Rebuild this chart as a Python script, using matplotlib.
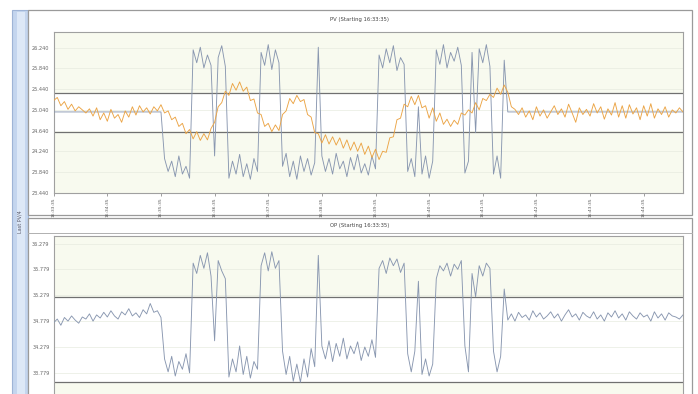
import numpy as np
import matplotlib
matplotlib.use("Agg")
import matplotlib.pyplot as plt
from matplotlib.patches import Rectangle

W, H = 698, 394

# PV panel - process value (orange) and second trace (blue)
pv = [
    25.22, 25.28, 25.12, 25.20, 25.05, 25.15, 25.02, 25.10, 25.04, 24.98,
    25.06, 24.92, 25.08, 24.85, 24.98, 24.82, 25.05, 24.88, 24.95, 24.80,
    25.02, 24.90, 25.10, 24.94, 25.12, 25.00, 25.08, 24.96, 25.10, 25.02,
    25.14, 24.98, 25.02, 24.85, 24.90, 24.72, 24.78, 24.58, 24.66, 24.48,
    24.62, 24.45, 24.58, 24.46, 24.68, 24.80, 25.10, 25.18, 25.40, 25.32,
    25.55, 25.42, 25.58, 25.40, 25.48, 25.22, 25.25, 24.98, 24.95, 24.72,
    24.78, 24.62, 24.75, 24.64, 24.95, 25.02, 25.26, 25.16, 25.32, 25.20,
    25.24, 24.95, 24.90, 24.60, 24.58, 24.40, 24.56, 24.38, 24.52, 24.36,
    24.50, 24.30, 24.46, 24.26, 24.42, 24.24, 24.40, 24.18, 24.34, 24.12,
    24.28, 24.08, 24.24, 24.22, 24.50, 24.52, 24.85, 24.88, 25.15, 25.10,
    25.30, 25.14, 25.32, 25.08, 25.12, 24.88, 25.08, 24.82, 24.98, 24.76,
    24.86, 24.72, 24.84, 24.76, 24.98, 24.94, 25.04, 24.98, 25.18, 25.04,
    25.26, 25.22, 25.34, 25.28, 25.46, 25.34, 25.52, 25.38, 25.10, 25.05,
    24.95, 25.08, 24.90, 25.02, 24.85, 25.10, 24.92, 25.04, 24.88, 25.00,
    25.12, 24.95, 25.06, 24.90, 25.15, 24.98, 24.80, 25.08, 24.95, 25.05,
    24.92, 25.16, 24.98, 25.10, 24.86, 25.06, 24.94, 25.18, 24.90, 25.12,
    24.88, 25.14, 24.96, 25.08, 24.85, 25.12, 24.92, 25.16, 24.88, 25.06,
    24.95, 25.10, 24.90, 25.04, 24.98, 25.08, 25.00,
]

pv2 = [
    25.0, 25.0, 25.0, 25.0, 25.0, 25.0, 25.0, 25.0, 25.0, 25.0,
    25.0, 25.0, 25.0, 25.0, 25.0, 25.0, 25.0, 25.0, 25.0, 25.0,
    25.0, 25.0, 25.0, 25.0, 25.0, 25.0, 25.0, 25.0, 25.0, 25.0,
    25.0,
    24.10, 23.85, 24.05, 23.75, 24.15, 23.80, 23.95, 23.72,
    26.20, 25.95, 26.25, 25.85, 26.10, 25.90, 24.15, 26.05, 26.28, 25.88,
    23.72, 24.05, 23.80, 24.18, 23.75, 24.00, 23.70, 24.10, 23.85,
    26.15, 25.90, 26.30, 25.82, 26.20, 25.95,
    23.95, 24.20, 23.75, 24.05, 23.70, 24.15, 23.85, 24.10, 23.78, 24.02,
    26.25,
    24.15, 23.85, 24.10, 23.80, 24.20, 23.90, 24.05, 23.75, 24.12, 23.88,
    24.18, 23.82, 24.00, 23.78, 24.15, 23.90,
    26.10, 25.85, 26.22, 25.95, 26.28, 25.80, 26.05, 25.92,
    23.85, 24.10, 23.75, 25.10, 23.80, 24.15, 23.72, 24.05,
    26.20, 25.92, 26.30, 25.85, 26.15, 25.98, 26.25, 25.90,
    23.82, 24.05,
    26.15, 24.60, 26.22, 25.95, 26.30, 25.88,
    23.80, 24.15, 23.72, 26.00,
    25.0, 25.0, 25.0, 25.0, 25.0, 25.0, 25.0, 25.0, 25.0, 25.0,
    25.0, 25.0, 25.0, 25.0, 25.0, 25.0, 25.0, 25.0, 25.0, 25.0,
    25.0, 25.0, 25.0, 25.0, 25.0, 25.0, 25.0, 25.0, 25.0, 25.0,
    25.0, 25.0, 25.0, 25.0, 25.0, 25.0, 25.0, 25.0, 25.0, 25.0,
    25.0, 25.0, 25.0, 25.0, 25.0, 25.0, 25.0, 25.0, 25.0, 25.0,
]

# OP panel
op = [
    34.75, 34.82, 34.70, 34.85, 34.78, 34.88, 34.80, 34.74, 34.86, 34.82,
    34.92, 34.78, 34.90, 34.84, 34.95, 34.86, 34.98, 34.88, 34.82, 34.96,
    34.90, 35.02, 34.88, 34.94, 34.85, 35.00, 34.92, 35.12, 34.95, 34.98,
    34.85,
    34.05, 33.80, 34.10, 33.72, 34.00, 33.85, 34.15, 33.78,
    35.90, 35.70, 36.05, 35.80, 36.10, 35.65, 34.40, 35.95, 35.75, 35.60,
    33.70, 34.05, 33.80, 34.30, 33.75, 34.10, 33.68, 34.00, 33.85,
    35.85, 36.10, 35.75, 36.12, 35.80, 35.95,
    34.20, 33.75, 34.10, 33.62, 33.95, 33.60, 34.05, 33.70, 34.25, 33.90,
    36.05,
    34.30, 34.05, 34.40, 34.00, 34.35, 34.10, 34.45, 34.05, 34.30, 34.15,
    34.38, 34.02, 34.28, 34.10, 34.42, 34.08,
    35.80, 35.95, 35.70, 36.00, 35.85, 35.98, 35.72, 35.90,
    34.15, 33.80, 34.20, 35.55, 33.75, 34.05, 33.72, 33.95,
    35.60, 35.85, 35.75, 35.90, 35.65, 35.88, 35.78, 35.95,
    34.30, 33.80,
    35.70, 35.25, 35.85, 35.65, 35.90, 35.80,
    34.20, 33.80, 34.10, 35.40,
    34.80, 34.92, 34.78, 34.95, 34.85, 34.90, 34.80, 34.98, 34.86, 34.94,
    34.82, 34.88, 34.96, 34.84, 34.92, 34.78, 34.90, 35.00, 34.86, 34.92,
    34.80, 34.95, 34.88, 34.84, 34.96, 34.82, 34.90, 34.78, 34.94, 34.86,
    34.98, 34.84, 34.92, 34.80, 34.96, 34.88, 34.82, 34.94, 34.86, 34.90,
    34.78, 34.96, 34.84, 34.92, 34.80, 34.94, 34.88, 34.86, 34.82, 34.90,
]

pv_ticks = [26.24, 25.84, 25.44, 25.04, 24.64, 24.24, 23.84, 23.44]
op_ticks = [36.279, 35.779, 35.279, 34.779, 34.279, 33.779]
time_ticks = [0, 15, 30, 45, 60, 75, 90, 105, 120, 135, 150, 165]
time_labels = ["16:33:35", "16:34:35", "16:35:35", "16:36:35", "16:37:35", "16:38:35",
               "16:39:35", "16:40:35", "16:41:35", "16:42:35", "16:43:35", "16:44:35"]

# limits / bands
pv_lim = (23.44, 26.55)
pv_band = (24.607, 25.372)
op_lim = (32.87, 36.43)
op_band = (33.607, 35.237)

orange = "#eba445"
blue = "#8997b0"
band_fill = "#f8faef"
dark = "#707070"


def fx(x):
    return x / W


def fy(y):
    return 1 - y / H


fig = plt.figure(figsize=(W / 100, H / 100), dpi=100)
fig.patch.set_facecolor("white")

# left side strip
fig.add_artist(Rectangle((fx(12), fy(400)), fx(16), fy(10) - fy(400), transform=fig.transFigure,
                         facecolor="#c4d5ee", edgecolor="#9fb4d6", lw=0.8, zorder=-5))
fig.add_artist(Rectangle((fx(16.5), fy(400)), fx(8), fy(12) - fy(400), transform=fig.transFigure,
                         facecolor="#dde8f7", edgecolor="none", zorder=-4))
fig.text(fx(20.5), fy(222), "Last PV/4", rotation=90, ha="center", va="center",
         fontsize=3.5, color="#556")

# panel frames
for top, bot in [(10, 215), (218, 420)]:
    fig.add_artist(Rectangle((fx(28), fy(bot)), fx(692) - fx(28), fy(top) - fy(bot),
                             transform=fig.transFigure, facecolor="white",
                             edgecolor="#9a9a9a", lw=0.9, zorder=-5))
fig.add_artist(plt.Line2D([fx(28), fx(692)], [fy(232.7), fy(232.7)], transform=fig.transFigure,
                          color="#b0b0b0", lw=0.7, zorder=-4))

fig.text(fx(360), fy(20), "PV (Starting 16:33:35)", ha="center", va="center", fontsize=3.8, color="#444")
fig.text(fx(360), fy(225.5), "OP (Starting 16:33:35)", ha="center", va="center", fontsize=3.8, color="#444")

x = np.arange(len(pv))

ax1 = fig.add_axes([fx(53.7), fy(192.7), fx(683) - fx(53.7), fy(31.7) - fy(192.7)])
ax2 = fig.add_axes([fx(53.7), fy(420), fx(683) - fx(53.7), fy(235.7) - fy(420)])

for ax, lim, band, ticks in [(ax1, pv_lim, pv_band, pv_ticks),
                             (ax2, op_lim, op_band, op_ticks)]:
    ax.set_facecolor("white")
    ax.set_xlim(0, 176)
    ax.set_ylim(*lim)
    ax.axhspan(band[1], lim[1], facecolor=band_fill, edgecolor="none", zorder=0)
    ax.axhspan(lim[0], band[0], facecolor=band_fill, edgecolor="none", zorder=0)
    ax.axhline(band[0], color=dark, lw=0.9, zorder=1)
    ax.axhline(band[1], color=dark, lw=0.9, zorder=1)
    ax.set_yticks(ticks)
    ax.set_yticklabels(["{:.3f}".format(t) for t in ticks])
    ax.grid(axis="y", color="#e8ebe0", lw=0.5, zorder=0)
    ax.tick_params(axis="y", labelsize=3.6, labelcolor="#666", length=0, pad=3)
    ax.set_xticks(time_ticks)
    for s in ax.spines.values():
        s.set_color("#a0a0a0")
        s.set_linewidth(0.8)

ax1.plot(x, pv2, color=blue, lw=0.65, zorder=3)
ax1.plot(x, pv, color=orange, lw=0.65, zorder=4)
ax1.set_xticklabels(time_labels, rotation=90)
ax1.tick_params(axis="x", labelsize=3.2, labelcolor="#555", length=2, width=0.5, color="#777", pad=1.5)

ax2.plot(x, op, color=blue, lw=0.65, zorder=3)
ax2.set_xticklabels([])
ax2.tick_params(axis="x", length=0)

fig.savefig("out.png", dpi=100)
